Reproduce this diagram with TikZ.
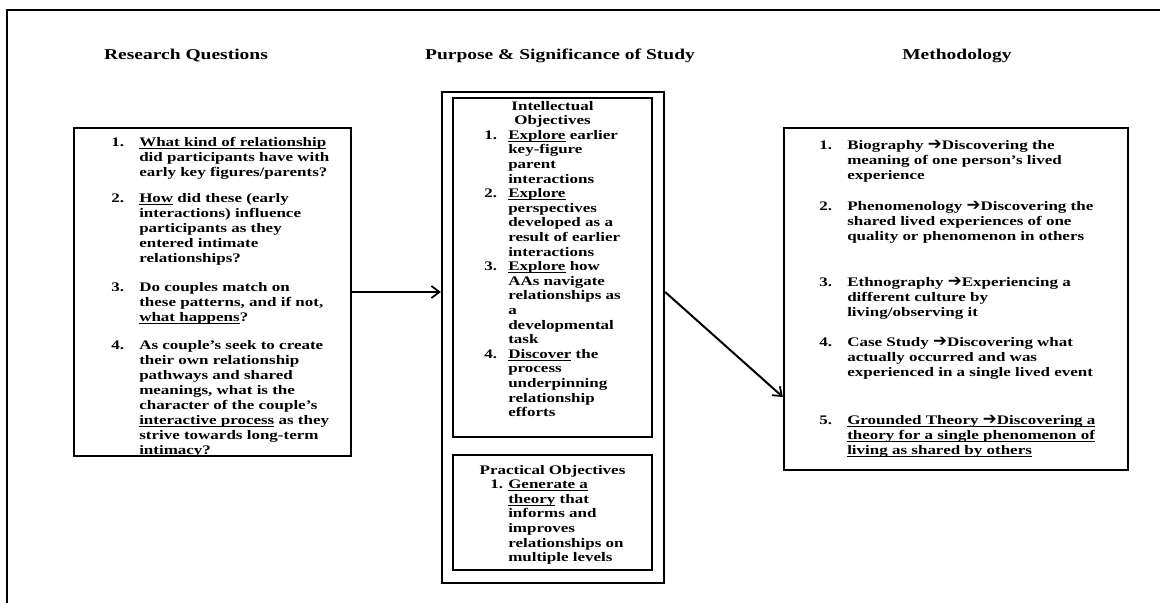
\documentclass[tikz,border=0pt]{standalone}
\usepackage{fontspec}
\setmainfont{Liberation Serif}[FakeStretch=1.3]
\newfontfamily\arrowfont{DejaVu Sans}
\usetikzlibrary{arrows.meta,fit}
% bold heavy arrow used inside the method list
\newcommand{\goesto}{{\arrowfont\bfseries\fontsize{12.5}{11.25}\selectfont ➔}}
% underline at a fixed depth below the baseline
\newcommand{\uln}[1]{\setbox0\hbox{#1}\rlap{\vrule height -1.4pt depth 2.1pt width\wd0}\box0\relax}
% numbered list block: number column of width #1, rows given in #2
\newcommand{\numlist}[2]{\begin{tabular}[t]{@{}p{#1}@{}l@{}}#2\end{tabular}}
\newcommand{\cstack}[1]{\begin{tabular}[t]{@{}c@{}}#1\end{tabular}}

\begin{document}
\begin{tikzpicture}[x=0.75pt,y=-0.75pt,
  frame/.style={line width=1.8pt},
  box/.style={draw, line width=1.7pt, inner sep=0pt},
  innerbox/.style={draw, line width=1.5pt, inner sep=0pt},
  head/.style={font=\fontsize{11.25}{13}\selectfont\bfseries, inner sep=0pt, anchor=base},
  body/.style={font=\fontsize{9.8}{11.25}\selectfont\bfseries, inner sep=0pt, anchor=base west},
  mid/.style={font=\fontsize{9.8}{10.95}\selectfont\bfseries, inner sep=0pt, anchor=base west},
  link/.style={line width=1.5pt, -{Straight Barb[length=6pt,width=9pt,line width=1.3pt]}}]

\useasboundingbox (0,0) rectangle (1160,603);

% open outer frame
\draw[frame] (7,604) -- (7,10) -- (1161,10);

% column headings
\node[head] (h1) at (186,59) {Research Questions};
\node[head] (h2) at (560,59) {Purpose \& Significance of Study};
\node[head] (h3) at (957,59) {Methodology};

% boxes
\node[box, fit={(74,128) (351,456)}] (rq) {};
\node[box, fit={(442,92) (664,583)}] (ps) {};
\node[innerbox, fit={(453,98) (652,437)}] (io) {};
\node[innerbox, fit={(453,455) (652,570)}] (po) {};
\node[box, fit={(784,128) (1128,470)}] (me) {};

% connectors
\draw[link] (rq.east) -- (rq.east -| ps.west);
\draw[link] (ps.east |- rq.east) -- ([yshift=-73.5pt]me.west);

% research questions
\node[body] (q1) at (111,146) {\numlist{21pt}{1.&\uln{What kind of relationship}\\&did participants have with\\&early key figures/parents?}};
\node[body] (q2) at (111,202) {\numlist{21pt}{2.&\uln{How} did these (early\\&interactions) influence\\&participants as they\\&entered intimate\\&relationships?}};
\node[body] (q3) at (111,291) {\numlist{21pt}{3.&Do couples match on\\&these patterns, and if not,\\&\uln{what happens}?}};
\node[body] (q4) at (111,349) {\numlist{21pt}{4.&As couple’s seek to create\\&their own relationship\\&pathways and shared\\&meanings, what is the\\&character of the couple’s\\&\uln{interactive process} as they\\&strive towards long-term\\&intimacy?}};

% intellectual objectives
\node[mid, anchor=base] (ioh) at (io.center |- 0,110) {\cstack{Intellectual\\Objectives}};
\node[mid] (io1) at (484,139.2) {\numlist{18pt}{1.&\uln{Explore} earlier\\&key-figure\\&parent\\&interactions}};
\node[mid] (io2) at (484,197.6) {\numlist{18pt}{2.&\uln{Explore}\\&perspectives\\&developed as a\\&result of earlier\\&interactions}};
\node[mid] (io3) at (484,270.6) {\numlist{18pt}{3.&\uln{Explore} how\\&AAs navigate\\&relationships as\\&a\\&developmental\\&task}};
\node[mid] (io4) at (484,358.2) {\numlist{18pt}{4.&\uln{Discover} the\\&process\\&underpinning\\&relationship\\&efforts}};

% practical objectives
\node[mid, anchor=base] (poh) at (po.center |- 0,474) {Practical Objectives};
\node[mid] (po1) at (490,488.6) {\numlist{13.5pt}{1.&\uln{Generate a}\\&\uln{theory} that\\&informs and\\&improves\\&relationships on\\&multiple levels}};

% methodology
\node[body] (m1) at (819,149) {\numlist{21pt}{1.&Biography \goesto Discovering the\\&meaning of one person’s lived\\&experience}};
\node[body] (m2) at (819,210) {\numlist{21pt}{2.&Phenomenology \goesto Discovering the\\&shared lived experiences of one\\&quality or phenomenon in others}};
\node[body] (m3) at (819,286) {\numlist{21pt}{3.&Ethnography \goesto Experiencing a\\&different culture by\\&living/observing it}};
\node[body] (m4) at (819,346) {\numlist{21pt}{4.&Case Study \goesto Discovering what\\&actually occurred and was\\&experienced in a single lived event}};
\node[body] (m5) at (819,424) {\numlist{21pt}{5.&\uln{Grounded Theory \goesto Discovering a}\\&\uln{theory for a single phenomenon of}\\&\uln{living as shared by others}}};
\end{tikzpicture}
\end{document}
